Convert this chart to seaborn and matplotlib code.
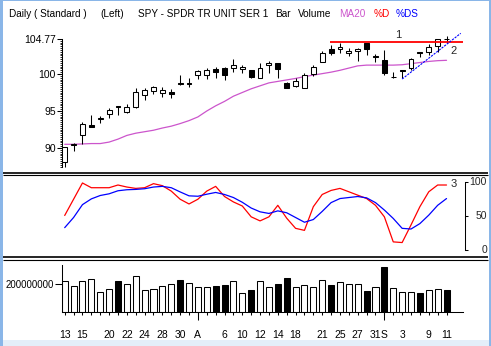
import numpy as np
import matplotlib
matplotlib.use("Agg")
import matplotlib.pyplot as plt
import seaborn as sns
from matplotlib import transforms
from matplotlib.lines import Line2D
from matplotlib.patches import Rectangle

sns.set_theme(style="white")
plt.rcParams["font.family"] = ["Liberation Sans", "DejaVu Sans"]

# ---------------- data ----------------
tick_labels = ['13', '', '15', '', '', '20', '', '22', '', '24', '', '28', '', '30', '',
               'A', '', '', '6', '', '10', '', '12', '', '14', '', '18', '', '', '21', '',
               '25', '', '27', '', '31', 'S', '', '3', '', '', '9', '', '11']
month_starts = [15, 36]

opens  = [88.1, 90.45, 91.7, 93.1, 93.9, 94.6, 95.7, 94.9, 95.5, 97.1,
          97.75, 97.5, 97.6, 98.75, 98.75, 99.8, 99.9, 100.65, 100.8, 100.85,
          100.65, 100.55, 99.4, 101.2, 101.45, 98.75, 98.4, 98.15, 99.95, 101.65,
          103.4, 103.35, 102.8, 103.1, 104.15, 102.45, 101.9, 99.6, 100.55, 100.75,
          102.95, 103.0, 103.8, 104.75]
highs  = [90.1, 90.7, 93.5, 94.5, 94.3, 95.4, 95.7, 96.0, 98.1, 98.1,
          98.35, 98.3, 98.0, 99.8, 99.4, 100.6, 100.8, 100.9, 101.0, 102.0,
          101.2, 100.6, 101.5, 101.7, 101.5, 98.95, 99.4, 100.2, 101.2, 103.1,
          103.9, 104.15, 103.45, 103.45, 104.2, 102.7, 103.25, 100.3, 100.6, 102.1,
          102.95, 104.05, 104.75, 105.2]
lows   = [87.4, 89.6, 90.5, 92.8, 93.4, 94.1, 94.4, 94.7, 95.4, 96.5,
          97.25, 96.9, 96.8, 98.5, 98.3, 99.3, 99.3, 99.5, 99.2, 100.3,
          100.2, 99.5, 99.4, 100.2, 99.5, 98.05, 98.3, 98.05, 99.75, 101.6,
          102.5, 102.8, 102.45, 101.8, 102.55, 101.65, 99.85, 99.4, 99.4, 100.5,
          102.25, 102.55, 103.0, 104.15]
closes = [90.1, 90.55, 93.2, 92.9, 94.0, 95.1, 95.5, 95.5, 97.5, 97.9,
          98.3, 97.8, 97.35, 98.6, 98.6, 100.4, 100.6, 100.3, 99.8, 101.2,
          101.0, 99.65, 100.8, 101.45, 100.7, 98.15, 99.05, 99.85, 100.9, 102.9,
          102.9, 103.6, 103.1, 103.35, 103.35, 102.25, 100.1, 99.65, 100.35, 102.0,
          102.8, 103.7, 104.7, 104.77]

ma20 = [90.5, 90.5, 90.55, 90.6, 90.6, 90.8, 91.2, 91.7, 92.0, 92.2,
        92.4, 92.7, 92.95, 93.3, 93.7, 94.2, 95.0, 95.7, 96.3, 97.0,
        97.5, 98.0, 98.4, 98.8, 99.0, 99.2, 99.4, 99.65, 99.85, 100.05,
        100.25, 100.5, 100.8, 101.1, 101.2, 101.2, 101.2, 101.2, 101.25, 101.4,
        101.55, 101.7, 101.8, 101.85]

pct_d = [51, 75, 99, 92, 92, 92, 96, 93, 91, 92,
         98, 95, 87, 75, 68, 75, 87, 94, 79, 71,
         65, 49, 43, 49, 66, 47, 32, 29, 64, 82,
         88, 91, 86, 81, 76, 66, 49, 12, 11, 37,
         64, 86, 96, 96]
pct_ds = [33, 48, 67, 75.5, 80.5, 83, 87.5, 89, 89.5, 90.5,
          93, 94, 92, 85.8, 80, 79.4, 82.4, 85, 82, 77.5,
          70.5, 62, 56.4, 54, 57.8, 55, 48, 41, 45, 57,
          70, 76, 77.5, 79, 77, 70, 59, 46.6, 32, 31,
          39, 51.5, 66, 76]

volume_m = [219, 184, 219, 234, 139, 162, 219, 198, 255, 155,
            162, 184, 198, 226, 202, 174, 174, 184, 190, 219,
            131, 155, 219, 174, 198, 241, 174, 190, 174, 226,
            190, 210, 198, 198, 148, 174, 319, 169, 141, 141,
            134, 157, 162, 157]
volume_down = [6, 13, 17, 18, 21, 24, 25, 30, 34, 36, 40, 43]

line1_x = [29.9, 44.9]
line1_y = [104.28, 104.28]
line2_x = [38.0, 44.6]
line2_y = [99.32, 105.5]

price_ticks = [90, 95, 100, 104.77]
price_tick_labels = ['90', '95', '100', '104.77']
stoch_ticks = [0, 50, 100]

# ---------------- layout helpers ----------------
W, H = 491, 346
def fx(px): return px / W
def fy(py): return 1 - py / H

idx = np.arange(len(closes))
XL = (-0.304, 45.08)
PX_L, PX_R = 62, 465

fig = plt.figure(figsize=(W / 100, H / 100), dpi=100)
fig.patch.set_facecolor("white")

def make_ax(top, bottom):
    return fig.add_axes([fx(PX_L), fy(bottom), fx(PX_R) - fx(PX_L), (bottom - top) / H])

ax_p = make_ax(20, 170)
ax_s = make_ax(176, 256)
ax_v = make_ax(262, 311.7)

FS = 7.5
BLACK_LW = 0.75
MA_COL = "#cc55cc"

# ---------------- price panel ----------------
o = np.array(opens); c = np.array(closes)
up = c >= o
sns.lineplot(x=idx, y=ma20, ax=ax_p, color=MA_COL, lw=0.9, zorder=1)
ax_p.vlines(idx, lows, highs, color="black", lw=BLACK_LW, zorder=2)
body_h = np.maximum(np.abs(c - o), 0.02)
ax_p.bar(idx, body_h, bottom=np.minimum(o, c), width=0.55,
         color=np.where(up, "white", "black"), edgecolor="black",
         linewidth=BLACK_LW, zorder=3)
ax_p.plot(line1_x, line1_y, color="#ff0000", lw=1.3, zorder=4, solid_capstyle="butt")
ax_p.plot(line2_x, line2_y, color="#0000ff", lw=0.8, ls=(0, (2, 1)), zorder=4)
ax_p.text(37.6, 105.25, "1", fontsize=8, ha="center", va="center")
ax_p.text(43.75, 103.1, "2", fontsize=8, ha="center", va="center")

ax_p.set_xlim(*XL)
ax_p.set_ylim(100 - 96 / 7.4, 100 + 54 / 7.4)
for s in ["top", "right", "bottom"]:
    ax_p.spines[s].set_visible(False)
ax_p.spines["left"].set_bounds(87.4, 104.77)
ax_p.spines["left"].set_color("black")
ax_p.spines["left"].set_linewidth(BLACK_LW)
ax_p.set_yticks(price_ticks)
ax_p.set_yticklabels(price_tick_labels)
ax_p.set_yticks(np.arange(87.5, 104.76, 0.25), minor=True)
ax_p.tick_params(axis="y", which="major", left=True, length=3.5, width=BLACK_LW,
                 color="black", pad=1, labelsize=FS, labelcolor="black")
ax_p.tick_params(axis="y", which="minor", left=True, length=1.2, width=0.6, color="black")
ax_p.set_xticks([])
ax_p.set_xlabel(""); ax_p.set_ylabel("")
ax_p.set_facecolor("white")

# ---------------- stochastic panel ----------------
sns.lineplot(x=idx, y=pct_d, ax=ax_s, color="#ff0000", lw=0.9)
sns.lineplot(x=idx, y=pct_ds, ax=ax_s, color="#0000ff", lw=0.9)
ax_s.text(43.85, 97.5, "3", fontsize=8, ha="center", va="center")
ax_s.set_xlim(*XL)
ax_s.set_ylim((250 - 256) / 0.677, (250 - 176) / 0.677)
for s in ["top", "left", "bottom"]:
    ax_s.spines[s].set_visible(False)
ax_s.spines["right"].set_bounds(0, 100)
ax_s.spines["right"].set_color("black")
ax_s.spines["right"].set_linewidth(BLACK_LW)
ax_s.yaxis.tick_right()
ax_s.set_yticks(stoch_ticks)
ax_s.set_yticklabels([])
ax_s.tick_params(axis="y", right=True, left=False, length=2, width=BLACK_LW, color="black")
trans = transforms.blended_transform_factory(fig.transFigure, ax_s.transData)
for t in stoch_ticks:
    ax_s.text(fx(487), t, str(t), transform=trans, ha="right", va="center", fontsize=FS)
ax_s.set_xticks([])
ax_s.set_xlabel(""); ax_s.set_ylabel("")
ax_s.set_facecolor("white")

# ---------------- volume panel ----------------
vol = np.array(volume_m) * 1e6
vcat = np.where(np.isin(idx, volume_down), "down", "up")
sns.barplot(x=idx, y=vol, hue=vcat, palette={"up": "white", "down": "black"},
            native_scale=True, width=0.68, edgecolor="black", linewidth=BLACK_LW,
            dodge=False, errorbar=None, legend=False, ax=ax_v)
ax_v.set_xlim(*XL)
ax_v.set_ylim(0, (311.7 - 262) / 28 * 200e6)
for s in ["top", "right"]:
    ax_v.spines[s].set_visible(False)
ax_v.spines["left"].set_bounds(0, (311.7 - 265) / 28 * 200e6)
ax_v.spines["bottom"].set_bounds(XL[0], 44.85)
for s in ["left", "bottom"]:
    ax_v.spines[s].set_color("black")
    ax_v.spines[s].set_linewidth(BLACK_LW)
ax_v.set_yticks([200e6])
ax_v.set_yticklabels(["200000000"])
ax_v.tick_params(axis="y", left=True, length=5, width=BLACK_LW, color="black",
                 pad=1, labelsize=6.9, labelcolor="black")
ax_v.xaxis.remove_overlapping_locs = False
ax_v.set_xticks(idx)
ax_v.set_xticklabels(tick_labels)
ax_v.set_xticks(month_starts, minor=True)
ax_v.tick_params(axis="x", which="major", bottom=True, length=2.5, width=BLACK_LW,
                 color="black", pad=11, labelsize=FS, labelcolor="black")
ax_v.tick_params(axis="x", which="minor", bottom=True, length=6, width=BLACK_LW, color="black")
ax_v.set_xlabel(""); ax_v.set_ylabel("")
ax_v.set_facecolor("white")

# ---------------- title ----------------
title_parts = [("Daily ( Standard )", 9.3, "black"), ("(Left)", 100, "black"),
               ("SPY - SPDR TR UNIT SER 1", 137.7, "black"), ("Bar", 275, "black"),
               ("Volume", 297.7, "black"), ("MA20", 339.3, MA_COL),
               ("%D", 373.3, "#ff0000"), ("%DS", 396, "#0000ff")]
for txt, x, col in title_parts:
    fig.text(fx(x), fy(16.7), txt, color=col, fontsize=7.2, ha="left", va="baseline")

# ---------------- frame ----------------
def hline(y, lw, x0=3, x1=488, col="black"):
    fig.add_artist(Line2D([fx(x0), fx(x1)], [fy(y), fy(y)], color=col, lw=lw,
                          transform=fig.transFigure, solid_capstyle="butt"))

hline(172.7, 1.2); hline(175.0, 0.8)
hline(257.2, 1.2); hline(259.6, 0.8)

border = "#8ab6e8"
fig.add_artist(Rectangle((0, 0), fx(3), 1, transform=fig.transFigure, color=border, lw=0))
fig.add_artist(Rectangle((fx(488.5), 0), 1 - fx(488.5), 1, transform=fig.transFigure, color=border, lw=0))
fig.add_artist(Rectangle((0, fy(1)), 1, 1 - fy(1), transform=fig.transFigure, color=border, lw=0))
fig.add_artist(Rectangle((fx(3), 0), fx(488.5) - fx(3), fy(339.5),
                         transform=fig.transFigure, color="#e4eef9", lw=0))

fig.savefig("out.png", dpi=100, facecolor="white")
